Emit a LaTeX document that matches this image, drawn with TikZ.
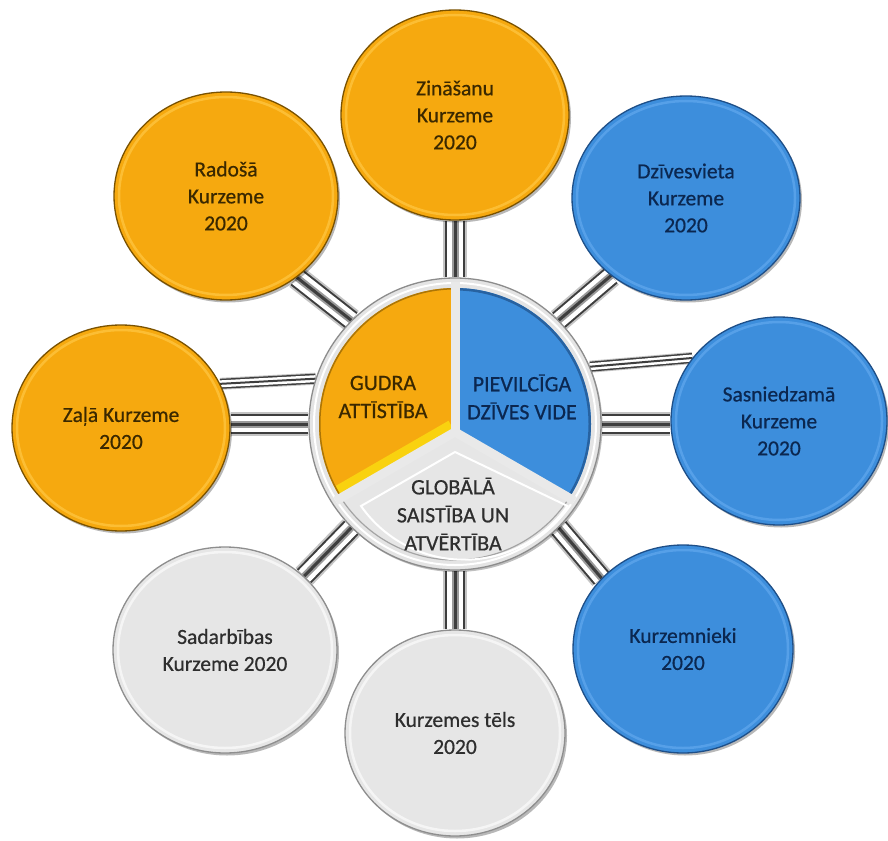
\documentclass[tikz,border=0pt]{standalone}
\usepackage{fontspec}
\setmainfont{Carlito}
\newfontfamily\lblfont{Carlito}[FakeBold=0.6]
\usetikzlibrary{shapes.geometric,shadows,calc}
\pgfdeclarelayer{bg}
\pgfsetlayers{bg,main}
\definecolor{orF}{HTML}{F6A90F}
\definecolor{orD}{HTML}{7A5200}
\definecolor{orH}{HTML}{FFC845}
\definecolor{orT}{HTML}{3A2800}
\definecolor{blF}{HTML}{3D8EDC}
\definecolor{blD}{HTML}{1E4F88}
\definecolor{blH}{HTML}{62A8EE}
\definecolor{blT}{HTML}{0B2750}
\definecolor{grF}{HTML}{E6E6E6}
\definecolor{grD}{HTML}{8E8E8E}
\definecolor{grH}{HTML}{F7F7F7}
\definecolor{grT}{HTML}{2E2E2E}
\definecolor{pipeLight}{HTML}{C4C4C4}
\definecolor{pipeMid}{HTML}{9A9A9A}
\definecolor{pipeDark}{HTML}{3E3E3E}
\definecolor{hubF}{HTML}{E4E4E4}
\definecolor{hubD}{HTML}{8C8C8C}
\definecolor{gapC}{HTML}{E9E9E9}
\newcommand\bubnode[7]{%
  \node[#6, minimum width=#4*2pt, minimum height=#5*2pt] (#1) at (#2,#3) {#7};
  \draw[#6hl] (#2,#3) ellipse [x radius=#4-5, y radius=#5-5];
}
\tikzset{
  bubble/.style={ellipse, inner sep=0pt, align=center, line width=1.3pt,
    font=\lblfont\fontsize{21.5}{27}\selectfont,
    drop shadow={shadow xshift=2pt, shadow yshift=-2.5pt, opacity=0.28, fill=black}},
  orb/.style={bubble, fill=orF, draw=orD, text=orT},
  blb/.style={bubble, fill=blF, draw=blD, text=blT},
  grb/.style={bubble, fill=grF, draw=grD, text=grT},
  orbhl/.style={draw=orH, line width=2.5pt, opacity=0.7},
  blbhl/.style={draw=blH, line width=2.5pt, opacity=0.7},
  grbhl/.style={draw=grH, line width=2.5pt, opacity=0.9},
  pipeA/.style={draw=pipeLight, line width=12pt,
    postaction={draw=pipeDark, line width=10pt},
    postaction={draw=white, line width=7pt},
    postaction={draw=pipeDark, line width=2pt}},
  pipeB/.style={draw=pipeLight, line width=24pt,
    postaction={draw=pipeDark, line width=20pt},
    postaction={draw=white, line width=16pt},
    postaction={draw=pipeMid, line width=7pt},
    postaction={draw=pipeDark, line width=3pt}},
  gap/.style={draw=gapC, line width=9pt},
  hublabel/.style={align=center, font=\lblfont\fontsize{22}{28}\selectfont},
}
\begin{document}
\begin{tikzpicture}[x=1pt, y=-1pt]
\useasboundingbox (0,0) rectangle (888,840);
\begin{pgfonlayer}{bg}
  \fill[white] (0,0) rectangle (888,840);
\end{pgfonlayer}

% outer bubbles
\bubnode{zin}{455}{115}{114}{105}{orb}{Zināšanu\\Kurzeme\\2020}
\bubnode{rad}{226}{196}{112}{104}{orb}{Radošā\\Kurzeme\\2020}
\bubnode{zala}{121}{428}{109}{103}{orb}{Zaļā Kurzeme\\2020}
\bubnode{dziv}{686}{198}{114}{102}{blb}{Dzīvesvieta\\Kurzeme\\2020}
\bubnode{sasn}{779}{421}{108}{104}{blb}{Sasniedzamā\\Kurzeme\\2020}
\bubnode{kurzn}{683}{649}{110}{104}{blb}{Kurzemnieki\\2020}
\bubnode{tels}{455}{733}{110}{103}{grb}{Kurzemes tēls\\2020}
\bubnode{sad}{225}{650}{112}{103}{grb}{Sadarbības\\Kurzeme 2020}

% hub
\node[circle, minimum size=292pt, inner sep=0pt, fill=hubF, draw=hubD, line width=1.3pt,
  drop shadow={shadow xshift=1.5pt, shadow yshift=-2pt, opacity=0.25, fill=black}] (hub) at (455,424) {};
\draw[white, line width=2pt] (455,424) circle (141);
% sectors
\fill[grF] (455,432) -- (340.9,497.9) arc[start angle=-212.9, end angle=-327.1, radius=136] -- cycle;
\draw[grD!80, line width=1.2pt] (455,432) -- (340.9,497.9) arc[start angle=-212.9, end angle=-327.1, radius=136] -- cycle;
\draw[white, line width=2pt] (455,452) -- (361,506) arc[start angle=-215, end angle=-325, radius=126] -- cycle;
\fill[orF] (455,432) -- (455,288) arc[start angle=-90, end angle=-212.9, radius=136] -- cycle;
\begin{scope}
  \clip (455,432) -- (455,288) arc[start angle=-90, end angle=-212.9, radius=136] -- cycle;
  \draw[yellow!55!orF, line width=26pt] (455,432) -- (340.9,497.9);
  \draw[orD!60!orF, line width=3pt] (455,424) circle (136);
\end{scope}
\fill[blF] (455,432) -- (455,288) arc[start angle=-90, end angle=32.9, radius=136] -- cycle;
\begin{scope}
  \clip (455,432) -- (455,288) arc[start angle=-90, end angle=32.9, radius=136] -- cycle;
  \draw[blD!70!blF, line width=5pt] (455,424) circle (136);
  \draw[blD!50!blF, line width=5pt] (455,432) -- (569.1,497.9);
\end{scope}
% gaps
\draw[gap] (455,432) -- (455,282);
\draw[gap] (455,432) -- (335.7,500.9);
\draw[gap] (455,432) -- (574.3,500.9);
\fill[gapC] (455,432) circle (4.5);

\node[hublabel, text=orT] (gud) at (383,397) {GUDRA\\ATTĪSTĪBA};
\node[hublabel, text=blT] (piev) at (522,397) {PIEVILCĪGA\\DZĪVES VIDE};
\node[hublabel, text=grT] (glob) at (453,514) {GLOBĀLĀ\\SAISTĪBA UN\\ATVĒRTĪBA};

% connectors
\begin{pgfonlayer}{bg}
  \draw[pipeB] (zin.south) -- (hub.north);
  \draw[pipeB] (tels.north) -- (hub.south);
  \draw[pipeB] (rad.-49) -- (hub.135);
  \draw[pipeB] (dziv.226) -- (hub.45);
  \draw[pipeB] (kurzn.139) -- (hub.-45);
  \draw[pipeB] (sad.43) -- (hub.225);
  \draw[pipeA] (zala.24) -- (hub.162);
  \draw[pipeB] (hub.west) -- (hub.west -| zala.east);
  \draw[pipeA] (hub.23) -- (sasn.144);
  \draw[pipeB] (hub.east) -- (hub.east -| sasn.west);
\end{pgfonlayer}
\end{tikzpicture}
\end{document}
